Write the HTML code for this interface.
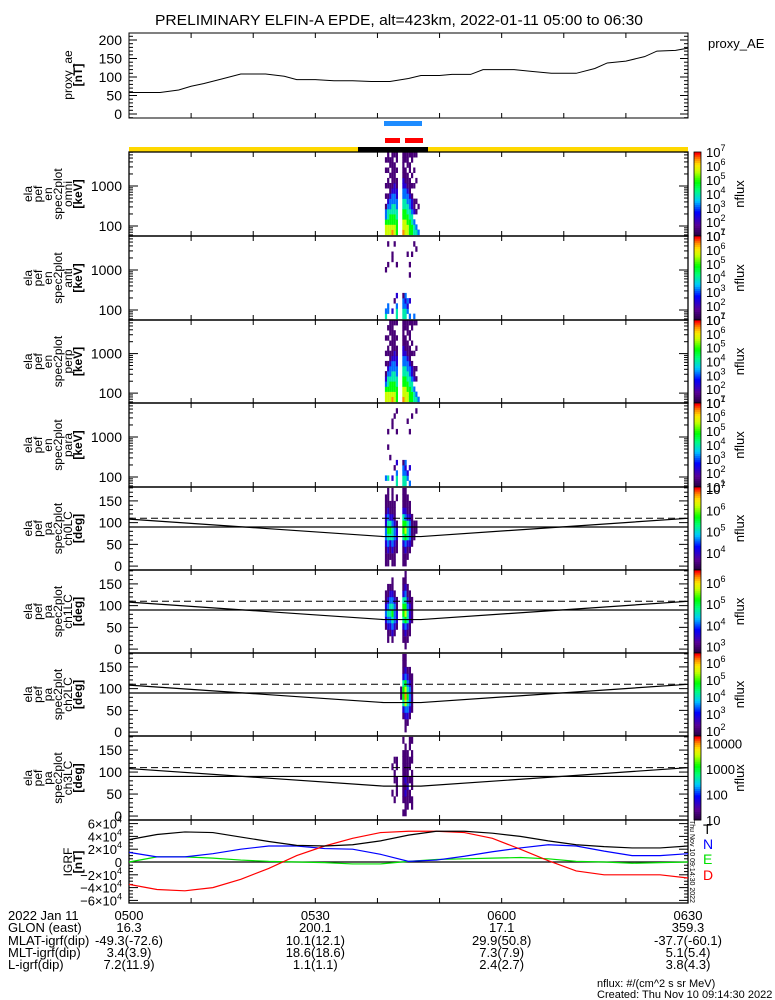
<!DOCTYPE html>
<html><head><meta charset="utf-8">
<style>
html,body{margin:0;padding:0;background:#fff;}
svg{display:block;font-family:"Liberation Sans",sans-serif;}
</style></head>
<body>
<svg id="chart" width="775" height="1000" viewBox="0 0 775 1000" xmlns="http://www.w3.org/2000/svg">
<rect width="775" height="1000" fill="#fff"/>
<text x="155" y="25" font-size="15" textLength="488" lengthAdjust="spacingAndGlyphs">PRELIMINARY ELFIN-A EPDE, alt=423km, 2022-01-11 05:00 to 06:30</text>
<g id="g"></g>
</svg>
<script>
// ---- data ----
const aeTimes=[0,5,8,10,12,15,18,22,25,27,30,33,36,39,42,45,47,50,52,55,57,62,65,68,72,75,77,80,83,85,88,90];
const aeValues=[58,58,65,75,82,95,108,108,102,93,93,90,90,88,88,96,104,104,107,107,120,120,115,110,110,123,138,143,155,170,172,178];
const aeTicks=[0,50,100,150,200];
const specTimes=[41.2,41.55,41.9,42.25,42.6,42.95,43.3,43.65,44.0,44.35,44.7,45.05,45.4,45.75,46.1,46.45];
const spec1=["6653310101001010","6654432101101011","6655433211010110","7655443321111111","6655443322111101","5554433221101011","0000000000000000","0000000000000000","7665544332211111","6665544332111011","6655443321110111","5554433211101101","5544322101010011","4430211001001001","4300101000100001","3000010000000000"];
const spec2=["4300000001000000","0330000000100010","0000000000000000","0200000000011000","0001000000000010","4430200000100000","0000000000000000","0000000000000000","4433100000000000","4432300000000000","0323000000001000","3002000010100000","0000000000001000","3000000000000010","0000000000000100","0000000000000000"];
const spec3=["6653210101001000","6654432101101010","6655433211010111","7655443321111111","6655443322111101","5554433221101001","0000000000000000","0000000000000000","7665544332211111","6665544332111011","6655443321110111","5554433211101101","5544322101010011","4430211001000001","4300101000100001","3000000000000000"];
const spec4=["0300000000000000","0400000100100000","0000010000000000","0200000000011000","0001000000000100","4430200000100010","0000000000000000","0000000000000000","4433100000000000","4432300000000000","0320000000001000","3002000000100000","0000000000000100","0000000000000000","0000000000000010","0000000000000000"];
const pa5=["111233221110","112345432111","011245421100","112344321111","111233211100","001122100010","000000000000","000000000000","111245542111","112356532111","011244421110","001233321100","000111110000","000011100000","000001100000","000000000000"];
const pa6=["000123211000","011234321100","001234432100","012345432110","001233321000","000122110000","000000000000","000000000000","011245542110","112356543211","011244321100","001122211000","000011110000","000000000000","000000000000","000000000000"];
const pa7=["000000000000","000000000000","000000000000","000000000000","000000000000","000000000000","000000000000","000001100000","001245542111","112367653211","012345432100","001233321100","000111111000","000000000000","000000000000","000000000000"];
const pa8=["000000000000","000000000000","000000000000","000100010000","001001101000","000111011000","000000000000","000000000000","101111111101","111212111110","011121111100","001101011011","011011101101","000000000000","000000000000","000000000000"];
const igrfT=[3.5,4.3,4.7,4.6,3.9,3.2,2.6,2.5,2.7,3.3,4.2,4.8,4.8,4.5,4.0,3.3,2.7,2.4,2.2,2.2,2.5];
const igrfN=[1.5,0.8,0.8,1.3,2.0,2.5,2.5,2.1,2.0,1.2,0.1,0.3,0.9,1.6,2.2,2.7,2.5,1.7,1.0,1.0,1.3];
const igrfE=[0,0.8,0.8,0.6,0.3,0.1,0,-0.1,-0.3,-0.3,0.1,0.4,0.5,0.6,0.7,0.5,0.1,0,-0.2,-0.1,0];
const igrfD=[-3.5,-4.3,-4.5,-4.0,-2.7,-1.0,1.0,2.5,3.7,4.6,4.8,4.8,4.6,3.7,2.0,0.2,-1.4,-2.0,-2.0,-2.0,-2.5];
const igrfTimes=[0,4.5,9,13.5,18,22.5,27,31.5,36,40.5,45,49.5,54,58.5,63,67.5,72,76.5,81,85.5,90];
const bottomRows=[["2022 Jan 11","0500","0530","0600","0630"],["GLON (east)","16.3","200.1","17.1","359.3"],["MLAT-igrf(dip)","-49.3(-72.6)","10.1(12.1)","29.9(50.8)","-37.7(-60.1)"],["MLT-igrf(dip)","3.4(3.9)","18.6(18.6)","7.3(7.9)","5.1(5.4)"],["L-igrf(dip)","7.2(11.9)","1.1(1.1)","2.4(2.7)","3.8(4.3)"]];

// ---- helpers ----
const NS="http://www.w3.org/2000/svg";
const G=document.getElementById('g');
const X0=129,X1=688;
function xs(m){return X0+m*(X1-X0)/90;}
function mk(tag,at,parent){const e=document.createElementNS(NS,tag);for(const k in at)e.setAttribute(k,at[k]);(parent||G).appendChild(e);return e;}
function cmap(f){
  const st=[[0,[40,0,70]],[0.12,[90,0,150]],[0.28,[0,0,255]],[0.42,[0,200,255]],[0.55,[0,255,120]],[0.65,[0,255,0]],[0.78,[200,255,0]],[0.86,[255,230,0]],[0.93,[255,140,0]],[1,[255,0,0]]];
  f=Math.max(0,Math.min(1,f));
  for(let i=1;i<st.length;i++){if(f<=st[i][0]){const a=st[i-1],b=st[i],t=(f-a[0])/(b[0]-a[0]);return 'rgb('+a[1].map((v,j)=>Math.round(v+(b[1][j]-v)*t)).join(',')+')';}}
  return 'rgb(255,0,0)';
}
function txt(x,y,s,at){const e=mk('text',Object.assign({x:x,y:y,'font-size':13},at||{}));e.textContent=s;return e;}
function timeTicks(y0,y1){for(let m=0;m<=90;m+=10){const x=xs(m);
  const a=mk('line',{x1:x,y1:y1,x2:x,y2:y1-5,stroke:'#000'});
  
  
  const b=mk('line',{x1:x,y1:y0,x2:x,y2:y0+5,stroke:'#000'});
  
  }}
function sideLabel(lines,yc,name){
  const grp=mk('g',{});
  
  
  const n=lines.length;
  lines.forEach((s,i)=>{const x=32+i*10+(n<6?(6-n)*10:0);const t=mk('text',{x:x,y:yc,'font-size':12,'text-anchor':'middle',transform:'rotate(-90 '+x+' '+yc+')'},grp);t.textContent=s;if(s[0]==='[')t.setAttribute('font-weight','bold');});
}

// ---- proxy AE panel ----
const aeT=33,aeB=118;
function aeY(v){return 114-v*0.37;}
let r=mk('rect',{x:X0,y:aeT,width:X1-X0,height:aeB-aeT,fill:'none',stroke:'#000'});


aeTicks.forEach(v=>{const y=aeY(v);mk('line',{x1:X0,y1:y,x2:X0+8,y2:y,stroke:'#000'});mk('line',{x1:X1,y1:y,x2:X1-8,y2:y,stroke:'#000'});
  const t=txt(122,y+5,String(v),{'text-anchor':'end','font-size':14});
  
  });
for(let v=-10;v<=210;v+=10){const y=aeY(v);if(y>aeT&&y<aeB){mk('line',{x1:X0,y1:y,x2:X0+4,y2:y,stroke:'#000'});mk('line',{x1:X1,y1:y,x2:X1-4,y2:y,stroke:'#000'});}}
timeTicks(aeT,aeB);
let pts=aeTimes.map((t,i)=>xs(t)+','+aeY(aeValues[i])).join(' ');
let pl=mk('polyline',{points:pts,fill:'none',stroke:'#000','stroke-width':1});


let tt=txt(708,48,'proxy_AE',{'font-size':13});


sideLabel(['proxy_ae','[nT]'],75,'proxy-ae-y-title');

// ---- status bars ----
let b1=mk('rect',{x:384,y:121,width:38,height:5,fill:'#1e8cff'});


let b2=mk('rect',{x:385,y:138,width:15,height:5,fill:'#ff0000'});


let b3=mk('rect',{x:405,y:138,width:18,height:5,fill:'#ff0000'});


let b4=mk('rect',{x:X0,y:147,width:X1-X0,height:5,fill:'#ffd800'});


let b5=mk('rect',{x:358,y:147,width:70,height:5,fill:'#000'});



// ---- spectrogram panels ----
const tops=[152,236,320,403,487,570,653,736,820];
const cbLabels=[[7,6,5,4,3,2,1],[7,6,5,4,3,2,1],[7,6,5,4,3,2,1],[7,6,5,4,3,2,1],[7,6,5,4],[6,5,4,3],[6,5,4,3,2],[10000,1000,100,10]];
const cbRange=[[1,7],[1,7],[1,7],[1,7],[3.2,7.1],[2.7,6.6],[1.7,6.6],[1,4.3]];
const specData=[spec1,spec2,spec3,spec4,pa5,pa6,pa7,pa8];
const enLabels=[['ela','pef','en','spec2plot','omni','[keV]'],['ela','pef','en','spec2plot','anti','[keV]'],['ela','pef','en','spec2plot','perp','[keV]'],['ela','pef','en','spec2plot','para','[keV]'],['ela','pef','pa','spec2plot','ch0LC','[deg]'],['ela','pef','pa','spec2plot','ch1LC','[deg]'],['ela','pef','pa','spec2plot','ch2LC','[deg]'],['ela','pef','pa','spec2plot','ch3LC','[deg]']];
for(let p=0;p<8;p++){
  const T=tops[p],B=tops[p+1],H=B-T;
  const isE=p<4;
  const cols=specData[p];
  const nb=cols[0].length;
  const yOf=isE?(v=>B-(v-1.75)/(3.85-1.75)*H):(v=>B-(v+9)/(191)*H);
  const lo=isE?1.78:0, hi=isE?3.85:180;
  const cw=(X1-X0)/90*0.36;
  cols.forEach((s,i)=>{for(let k=0;k<nb;k++){const d=+s[k];if(!d)continue;
    const v0=lo+(hi-lo)*k/nb,v1=lo+(hi-lo)*(k+1)/nb;
    const y1=yOf(v1),y0=yOf(v0);
    const c=mk('rect',{x:xs(specTimes[i]).toFixed(1),y:y1.toFixed(1),width:cw.toFixed(1),height:(y0-y1+0.3).toFixed(1),fill:cmap((d-0.5)/7)});
    
    }});
  const fr=mk('rect',{x:X0,y:T,width:X1-X0,height:H,fill:'none',stroke:'#000','stroke-width':1.3});
  
  
  timeTicks(T,B);
  if(isE){
    for(let dec=1;dec<=3;dec++)for(let m=1;m<10;m++){const v=dec+Math.log10(m);if(v<1.75||v>3.85)continue;const y=yOf(v);const L=m===1?9:4;
      mk('line',{x1:X0,y1:y,x2:X0+L,y2:y,stroke:'#000'});mk('line',{x1:X1,y1:y,x2:X1-L,y2:y,stroke:'#000'});}
    [[2,'100'],[3,'1000']].forEach(a=>{const t=txt(122,yOf(a[0])+5,a[1],{'text-anchor':'end','font-size':14});
      
      });
  }else{
    for(let v=0;v<=180;v+=10){const y=yOf(v);const L=v%50===0?9:4;mk('line',{x1:X0,y1:y,x2:X0+L,y2:y,stroke:'#000'});mk('line',{x1:X1,y1:y,x2:X1-L,y2:y,stroke:'#000'});}
    [0,50,100,150].forEach(v=>{const t=txt(122,yOf(v)+5,String(v),{'text-anchor':'end','font-size':14});
      
      });
    const l1=mk('line',{x1:X0,y1:yOf(90),x2:X1,y2:yOf(90),stroke:'#000','stroke-width':1.2});
    
    
    const l2=mk('line',{x1:X0,y1:yOf(110),x2:X1,y2:yOf(110),stroke:'#000','stroke-dasharray':'7,4'});
    
    
    const l3=mk('polyline',{points:[xs(0)+','+yOf(108),xs(41)+','+yOf(68),xs(47)+','+yOf(68),xs(90)+','+yOf(110)].join(' '),fill:'none',stroke:'#000','stroke-width':1.2});
    
    
  }
  sideLabel(enLabels[p],(T+B)/2,'panel-'+(p+1)+'-y-title');
  const cx=694,cwid=7,nseg=40;
  for(let s=0;s<nseg;s++){const c=mk('rect',{x:cx,y:T+H*(1-(s+1)/nseg),width:cwid,height:H/nseg+0.5,fill:cmap(s/(nseg-1))});
    
    }
  const cf=mk('rect',{x:cx,y:T,width:cwid,height:H,fill:'none',stroke:'#000','stroke-width':0.8});
  
  
  const rg=cbRange[p];
  cbLabels[p].forEach(v=>{const lv=v>=10&&p===7?Math.log10(v):v;const y=T+H*(1-(lv-rg[0])/(rg[1]-rg[0]));
    const t=mk('text',{x:706,y:y+5,'font-size':13});
    
    
    if(p===7){t.textContent=String(v);}else{t.textContent='10';const sp=mk('tspan',{dy:-6,'font-size':9},t);sp.textContent=String(v);}});
  const nf=mk('text',{x:744,y:(T+B)/2,'font-size':13,'text-anchor':'middle',transform:'rotate(-90 744 '+(T+B)/2+')'});
  nf.textContent='nflux';
  
  
}

// ---- IGRF panel ----
const iT=820,iB=903;
function iy(v){return 862-v*6.4;}
let fr=mk('rect',{x:X0,y:iT,width:X1-X0,height:iB-iT,fill:'none',stroke:'#000','stroke-width':1.3});


timeTicks(iT,iB);
for(let v=-6;v<=6;v+=0.5){const y=iy(v);const L=v%2===0?9:4;mk('line',{x1:X0,y1:y,x2:X0+L,y2:y,stroke:'#000'});mk('line',{x1:X1,y1:y,x2:X1-L,y2:y,stroke:'#000'});}
[-6,-4,-2,0,2,4,6].forEach(v=>{const t=mk('text',{x:122,y:iy(v)+5,'font-size':13,'text-anchor':'end'});
  
  
  if(v===0){t.textContent='0';}else{t.textContent=(v<0?'\u2212':'')+Math.abs(v)+'\u00d710';const sp=mk('tspan',{dy:-6,'font-size':9},t);sp.textContent='4';}});
let z=mk('line',{x1:X0,y1:iy(0),x2:X1,y2:iy(0),stroke:'#000','stroke-width':1.2});


[[igrfE,'#00e000','igrf-e-line'],[igrfN,'#0000ff','igrf-n-line'],[igrfD,'#ff0000','igrf-d-line'],[igrfT,'#000000','igrf-t-line']].forEach(a=>{
  const l=mk('polyline',{points:igrfTimes.map((t,i)=>xs(t)+','+iy(a[0][i])).join(' '),fill:'none',stroke:a[1],'stroke-width':1.2});
  
  });
[['T','#000',834],['N','#0000ff',849],['E','#00e000',864],['D','#ff0000',880]].forEach(a=>{const t=txt(703,a[2],a[0],{fill:a[1],'font-size':14});
  
  });
sideLabel(['IGRF','[nT]'],862,'igrf-y-title');
let st=mk('text',{x:690,y:820,'font-size':7,transform:'rotate(90 690 820)'});
st.textContent='Thu Nov 10 09:14:30 2022';



// ---- bottom annotation ----
const rowY=[920,932,945,957,969];
const colX=[xs(0),xs(30),xs(60),xs(90)];
bottomRows.forEach((row,i)=>{
  const l=txt(8,rowY[i],row[0],{'font-size':13});
  
  
  for(let j=1;j<5;j++){const t=txt(colX[j-1],rowY[i],row[j],{'font-size':13,'text-anchor':'middle'});
    
    }});
let n1=txt(597,987,'nflux: #/(cm^2 s sr MeV)',{'font-size':11});


let n2=txt(597,998,'Created: Thu Nov 10 09:14:30 2022',{'font-size':11});


</script>
</body></html>
